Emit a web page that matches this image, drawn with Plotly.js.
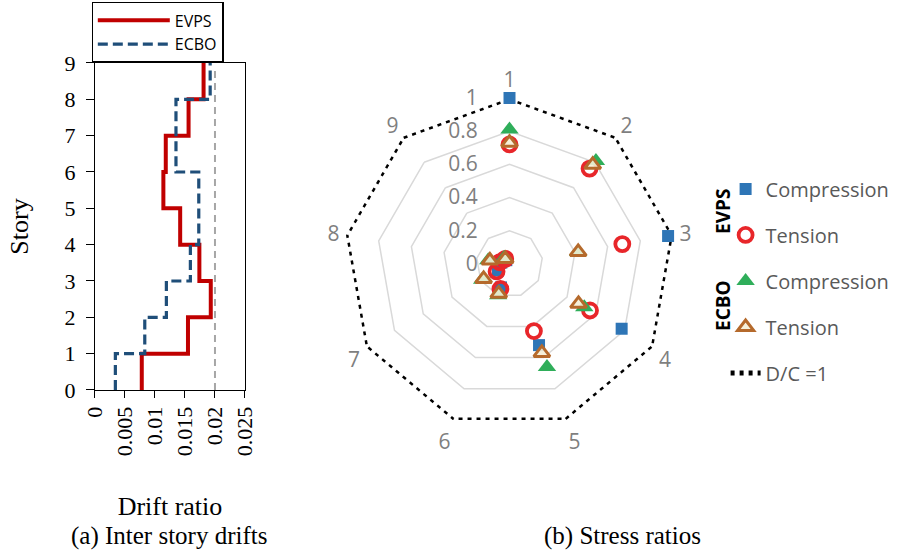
<!DOCTYPE html>
<html><head><meta charset="utf-8">
<script src="https://cdn.plot.ly/plotly-3.0.1.min.js"></script>
<style>html,body{margin:0;padding:0;background:#fff}#chart{width:907px;height:552px}</style>
</head><body><div id="chart"></div>
<script>
// ---- (a) Inter story drifts ----
const stories   = [0, 1, 2, 3, 4, 5, 6, 7, 8, 9];
const evpsDrift = [0.0078, 0.0155, 0.0193, 0.0174, 0.0142, 0.0114, 0.0118, 0.0156, 0.0181, 0.0181];
const ecboDrift = [0.0034, 0.0083, 0.0119, 0.0159, 0.0173, 0.0173, 0.0135, 0.0135, 0.0192, 0.0192];
const limitX = [0.02, 0.02];
const limitY = [0, 8.8];
const driftTicks = [0, 0.005, 0.01, 0.015, 0.02, 0.025];
const driftTickText = ['0', '0.005', '0.01', '0.015', '0.02', '0.025'];

// ---- (b) Stress ratios ----
const spokes   = ['1', '2', '3', '4', '5', '6', '7', '8', '9'];
const evpsComp = [1.00, 1.02, 0.97, 0.78, 0.52, 0.15, 0.08, 0.05, 0.03];
const evpsTens = [0.72, 0.75, 0.69, 0.56, 0.43, 0.16, 0.09, 0.06, 0.04];
const ecboComp = [0.81, 0.81, 0.42, 0.52, 0.66, 0.20, 0.19, 0.13, 0.05];
const ecboTens = [0.73, 0.78, 0.42, 0.48, 0.57, 0.19, 0.18, 0.12, 0.04];
const dcLimit  = [1, 1, 1, 1, 1, 1, 1, 1, 1];
const radialTicks = [0, 0.2, 0.4, 0.6, 0.8, 1];
const radialTickText = ['0', '0.2', '0.4', '0.6', '0.8', '1'];

const serif = 'Liberation Serif, Times New Roman, serif';
const sans = 'Open Sans, Liberation Sans, sans-serif';
const grey = '#7f7f7f';

const traces = [
  {type:'scatter', x: evpsDrift, y: stories, mode:'lines', name:'EVPS',
   line:{shape:'vh', color:'#c00000', width:4}, xaxis:'x', yaxis:'y', legend:'legend'},
  {type:'scatter', x: ecboDrift, y: stories, mode:'lines', name:'ECBO',
   line:{shape:'vh', color:'#1f4e79', width:3.2, dash:'10px,5px'}, xaxis:'x', yaxis:'y', legend:'legend'},
  {type:'scatter', x: limitX, y: limitY, mode:'lines', showlegend:false,
   line:{color:'#a6a6a6', width:2, dash:'7px,5px'}, xaxis:'x', yaxis:'y'},

  {type:'scatterpolar', r: dcLimit.concat(dcLimit[0]), theta: spokes.concat(spokes[0]), mode:'lines',
   name:'D/C =1', line:{color:'#000', width:5, dash:'4px,5px'}, legend:'legend2', legendrank:5, legendgroup:'e'},
  {type:'scatterpolar', r: evpsComp, theta: spokes, mode:'markers', name:'Compression', cliponaxis:false,
   marker:{symbol:'square', size:12, color:'#2e75b6'}, legend:'legend2', legendrank:1, legendgroup:'a'},
  {type:'scatterpolar', r: evpsTens, theta: spokes, mode:'markers', name:'Tension', cliponaxis:false,
   marker:{symbol:'circle-open', size:14, color:'#e8262a', line:{width:3.8, color:'#e8262a'}}, legend:'legend2', legendrank:2, legendgroup:'b'},
  {type:'scatterpolar', r: ecboComp, theta: spokes, mode:'markers', name:'Compression', cliponaxis:false,
   marker:{symbol:'triangle-up', size:16, color:'#2fae5a'}, legend:'legend2', legendrank:3, legendgroup:'c'},
  {type:'scatterpolar', r: ecboTens, theta: spokes, mode:'markers', name:'Tension', cliponaxis:false,
   marker:{symbol:'triangle-up', size:14, color:'rgba(245,240,215,0.9)', line:{width:3, color:'#b56a2c'}}, legend:'legend2', legendrank:4, legendgroup:'d'}
];

const layout = {
  width:907, height:552, margin:{l:0, r:0, t:0, b:0},
  paper_bgcolor:'#fff', plot_bgcolor:'#fff', showlegend:true,
  xaxis:{domain:[0.1047, 0.2701], range:[0, 0.025], tickvals:driftTicks, ticktext:driftTickText,
    tickangle:-90, ticks:'outside', ticklen:7, tickcolor:'#000', showline:true, mirror:true,
    linecolor:'#000', linewidth:1, showgrid:false, zeroline:false, automargin:false,
    tickfont:{family:serif, size:22, color:'#000'},
    title:{text:'Drift ratio', font:{family:serif, size:26, color:'#000'}, standoff:41}},
  yaxis:{domain:[0.2935, 0.8859], range:[0, 9], dtick:1, ticks:'outside', ticklen:8, tickcolor:'#000',
    showline:true, mirror:true, linecolor:'#000', linewidth:1, showgrid:false, zeroline:false,
    automargin:false, ticklabelstandoff:6,
    tickfont:{family:serif, size:22, color:'#000'},
    title:{text:'Story', font:{family:serif, size:26, color:'#000'}, standoff:28}},
  xaxis2:{overlaying:'x', matches:'x', anchor:'y', domain:[0.1047, 0.2701], range:[0, 0.025], tickvals:driftTicks,
    ticks:'inside', ticklen:5, tickcolor:'#000', showticklabels:false, showgrid:false, zeroline:false, showline:false},
  yaxis2:{overlaying:'y', matches:'y', anchor:'x', domain:[0.2935, 0.8859], range:[0, 9], dtick:1,
    ticks:'inside', ticklen:5, tickcolor:'#000', showticklabels:false, showgrid:false, zeroline:false, showline:false},
  legend:{x:0.101, y:0.996, xanchor:'left', yanchor:'top', bordercolor:'#000', borderwidth:1.2,
    bgcolor:'#fff', font:{family:sans, size:16, color:'#000'}, itemwidth:72, tracegroupgap:0},
  legend2:{x:0.80, y:0.693, xanchor:'left', yanchor:'top', bgcolor:'rgba(0,0,0,0)', borderwidth:0,
    font:{family:sans, size:20, color:'#595959'}, tracegroupgap:17, traceorder:'grouped'},
  polar:{domain:{x:[0.3787, 0.7448], y:[0.221, 0.8225]}, gridshape:'linear', bgcolor:'rgba(0,0,0,0)',
    angularaxis:{type:'category', categoryorder:'array', categoryarray:spokes, direction:'clockwise', rotation:90,
      showgrid:false, showline:false,
      ticks:'outside', ticklen:2, tickcolor:'rgba(0,0,0,0)', tickfont:{family:sans, size:21, color:grey}},
    radialaxis:{range:[0, 1], angle:90, tickangle:90, side:'counterclockwise', tickvals:radialTicks, ticktext:radialTickText,
      showline:false, ticks:'outside', ticklen:24, tickcolor:'rgba(0,0,0,0)', gridcolor:'#d9d9d9', gridwidth:1.5,
      tickfont:{family:sans, size:21, color:grey}}},
  annotations:[
    {xref:'paper', yref:'paper', x:169/907, y:1-536/552, text:'(a) Inter story drifts', showarrow:false,
     font:{family:serif, size:25, color:'#000'}, xanchor:'center', yanchor:'middle'},
    {xref:'paper', yref:'paper', x:622/907, y:1-536/552, text:'(b) Stress ratios', showarrow:false,
     font:{family:serif, size:25, color:'#000'}, xanchor:'center', yanchor:'middle'},
    {xref:'paper', yref:'paper', x:723/907, y:1-212/552, text:'<b>EVPS</b>', textangle:-90, showarrow:false,
     font:{family:sans, size:19, color:'#000'}, xanchor:'center', yanchor:'middle'},
    {xref:'paper', yref:'paper', x:723/907, y:1-306/552, text:'<b>ECBO</b>', textangle:-90, showarrow:false,
     font:{family:sans, size:19, color:'#000'}, xanchor:'center', yanchor:'middle'}
  ]
};

Plotly.newPlot('chart', traces, layout, {displayModeBar:false, staticPlot:true});
</script></body></html>
